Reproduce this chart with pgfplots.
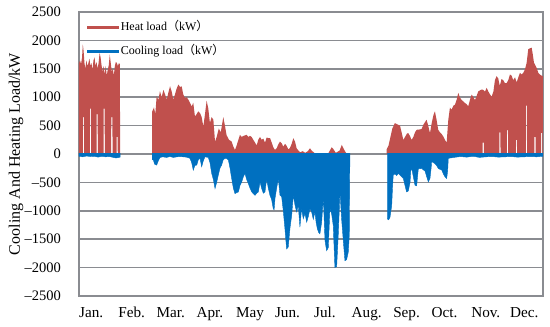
\documentclass[border=0pt]{standalone}
\usepackage{pgfplots}
\pgfplotsset{compat=1.18}
\usepackage{fontspec}
\setmainfont{Liberation Serif}
\newfontfamily\cjk{Noto Sans CJK SC}
\definecolor{heatred}{HTML}{C0504D}
\definecolor{coolblue}{HTML}{0070C0}
\definecolor{gridgray}{HTML}{8A8C91}
\begin{document}
\begin{tikzpicture}
\path (0,0) rectangle (550pt,327pt);
\begin{axis}[
  at={(79pt,31pt)}, anchor=south west,
  scale only axis, width=464pt, height=284pt,
  xmin=0, xmax=365, ymin=-2500, ymax=2500,
  xtick={9.6,41.4,72.2,103.0,134.5,164.0,193.5,226.3,257.7,287.5,320.0,350.2},
  xticklabels={Jan.,Feb.,Mar.,Apr.,May,Jun.,Jul.,Aug.,Sep.,Oct.,Nov.,Dec.},
  ytick={-2500,-2000,-1500,-1000,-500,0,500,1000,1500,2000,2500},
  yticklabels={\textendash2500,\textendash2000,\textendash1500,\textendash1000,\textendash500,0,500,1000,1500,2000,2500},
  major tick length=0pt,
  ymajorgrids=true,
  major grid style={color=gridgray, line width=1.5pt},
  axis line style={color=gridgray, line width=1.5pt},
  xticklabel style={font=\fontsize{15.2}{16}\selectfont, anchor=base, inner sep=0pt, yshift=-22pt},
  yticklabel style={font=\fontsize{14.5}{16}\selectfont, anchor=east, inner sep=0pt, xshift=-18pt},
  ylabel={Cooling And Heating Load/kW},
  ylabel style={at={(axis description cs:-0.1358,0.5)}, anchor=center, font=\fontsize{16}{18}\selectfont},
  legend cell align=left,
  legend image code/.code={\draw[#1] (0pt,0pt) -- (32pt,0pt);},
  legend style={at={(0.012,0.985)}, anchor=north west, draw=none, fill=none,
    font=\fontsize{12}{14}\selectfont, row sep=4pt, inner sep=1pt,
    nodes={inner xsep=0pt, inner ysep=4pt, text height=9pt, text depth=3pt}},
]
% ---------------- Heat load ----------------
\addplot[forget plot, fill=heatred, draw=none] coordinates {
(0,0)(0,1600)(0.8,1650)(1.6,1580)(2.4,1700)(3.0,1930)(3.6,1820)(4.3,1600)(5,1500)(5.8,1650)(6.6,1550)(7.4,1600)(8.2,1680)(9,1550)(9.8,1600)(10.6,1480)(11.4,1650)(12.2,1700)(13,1550)(13.8,1620)(14.6,1500)(15.4,1600)(16.2,1780)(17,1700)(17.8,1550)(18.6,1450)(19.4,1550)(20.2,1400)(21,1550)(21.8,1380)(22.6,1480)(23.4,1560)(24.2,1750)(25,1600)(25.8,1450)(26.6,1500)(27.4,1380)(28.2,1550)(29,1620)(29.8,1600)(30.6,1550)(31.4,1600)(32.2,1580)(32.3,0)
(30.5,0)(30.4,300)(29.6,300)(29.5,0)
(26.4,0)(26.3,650)(25.4,650)(25.3,0)
(20.3,0)(20.2,800)(19.4,800)(19.3,0)
(14.8,0)(14.7,700)(13.9,700)(13.8,0)
(9.5,0)(9.4,800)(8.6,800)(8.5,0)
(4.0,0)(3.9,650)(3.1,650)(3.0,0)
(0,0)
};
\addplot[forget plot, fill=heatred, draw=none] coordinates {
(57.6,0)(57.6,750)(59,820)(60,700)(61.1,1016)(62.4,950)(63.7,1105)(65,1000)(66.4,1130)(67.7,1050)(69.0,957)(70.3,1080)(71.6,1193)(72.9,1100)(74.2,957)(75.5,1050)(76.8,1150)(78.2,1223)(79.5,1180)(80.8,1190)(82,1050)(83.4,988)(84.7,1000)(86.0,957)(87.3,900)(88.6,839)(89.9,900)(91.2,661)(92.5,700)(93.8,750)(95.2,721)(96.5,650)(97.8,484)(99.1,700)(100.4,940)(101.7,800)(103.0,544)(104.3,650)(105.7,603)(107.0,218)(108.3,300)(110,450)(111.5,380)(113.5,650)(114.8,500)(116.1,330)(118,250)(120.1,218)(121.4,130)(122.7,71)(124,150)(126.6,337)(128,300)(129.5,320)(131.9,337)(133.2,300)(134.5,320)(135.8,300)(137.1,250)(138.5,200)(139.8,150)(141,250)(142.4,300)(143.7,250)(145,270)(146.3,200)(147.6,290)(149,280)(150.3,280)(151.6,200)(152.8,120)(154.2,71)(155.5,100)(156.8,170)(158.1,218)(159.4,190)(160.7,130)(162.1,180)(163.4,140)(164.7,80)(166,110)(167.3,180)(168.6,278)(169.9,220)(171.2,100)(172.6,60)(174,30)(176,50)(178,20)(180,50)(181.7,101)(183,60)(185.7,10)(188,5)(192,5)(196,8)(198.8,119)(200,90)(202,20)(205,60)(206.7,160)(208,100)(210,20)(212.5,0)
(57.6,0)
};
\addplot[forget plot, fill=heatred, draw=none] coordinates {
(242,0)(242,80)(243.5,150)(245,300)(246.5,450)(248.5,544)(250.5,520)(252.5,500)(253.8,380)(255.1,248)(256.5,300)(258,360)(259,367)(260.3,320)(261.6,248)(263,300)(264.3,380)(265.6,426)(267.5,430)(269.5,440)(271,520)(273.4,603)(274.7,500)(276.1,367)(277.5,550)(279,700)(280,750)(281.3,600)(282.6,426)(284,380)(285.3,350)(286.6,307)(287.9,250)(289.2,195)(290.5,600)(291.8,816)(293,780)(294.5,850)(295.8,869)(297,950)(298.4,1076)(299.5,1000)(301,950)(302.3,927)(303.5,900)(304.8,880)(306.2,840)(307.5,950)(308.9,1046)(310.2,1000)(311.5,950)(312.8,1020)(314,1100)(315.4,1120)(316.7,1135)(318,1130)(319.4,1100)(320.7,1165)(322,1100)(323.3,1050)(324.6,1010)(326,1100)(327.2,1300)(328.5,1371)(329.8,1330)(331,1200)(332.4,1320)(333.7,1300)(335,1250)(336.4,1250)(337.7,1300)(339.0,1400)(340.3,1380)(341.6,1300)(343.0,1350)(344.3,1260)(345.6,1350)(346.9,1430)(348.2,1400)(349.5,1430)(350.8,1489)(352.1,1600)(353.4,1844)(354.7,1860)(356.1,1873)(357.0,1750)(357.9,1608)(359.2,1550)(360.3,1500)(361.3,1430)(362.5,1400)(363.8,1380)(365,1371)(365,0)
(364.6,0)(364.5,370)(363.6,370)(363.5,0)
(359.2,0)(359.1,300)(358.3,300)(358.2,0)
(352.6,0)(352.5,850)(351.7,850)(351.6,0)
(344.6,0)(344.5,250)(343.7,250)(343.6,0)
(337.6,0)(337.5,420)(336.7,420)(336.6,0)
(331.6,0)(331.5,380)(330.7,380)(330.6,0)
(318.5,0)(318.4,200)(317.6,200)(317.5,0)
(242,0)
};
% ---------------- Cooling load ----------------
\addplot[forget plot, fill=coolblue, draw=coolblue, line width=0.4pt] coordinates {
(0,15)(0,-40)(3,-50)(6,-35)(9,-45)(12,-40)(15,-55)(18,-40)(21,-50)(24,-45)(27,-60)(29,-70)(30.5,-65)(32.3,-55)(32.3,15)
};
\addplot[forget plot, fill=coolblue, draw=coolblue, line width=0.4pt] coordinates {
(57.6,15)(57.6,-100)(58.5,-106)(59.5,-180)(61.1,-195)(62.4,-120)(63.7,-60)(66,-50)(68.9,-60)(71.5,-45)(74.2,-60)(77,-50)(79.4,-45)(82,-50)(84.5,-55)(87.3,-76)(88.6,-150)(89.9,-284)(91.2,-200)(92.6,-195)(93.9,-100)(95.2,-76)(96.5,-225)(97.8,-120)(99.1,-50)(101.7,-60)(103,-150)(104.4,-343)(105.7,-450)(107,-609)(108.3,-500)(109.6,-370)(110.9,-250)(112.2,-195)(113.5,-100)(114.9,-76)(116.2,-80)(117.5,-106)(118.8,-250)(120.1,-432)(121.4,-600)(122.7,-698)(124,-680)(125.4,-668)(126.7,-550)(128,-491)(129.3,-400)(130.6,-343)(131.9,-450)(133.2,-520)(134.5,-600)(135.9,-668)(137.2,-700)(138.5,-727)(139.8,-690)(141.1,-668)(142.4,-491)(143.7,-609)(145,-690)(146.3,-668)(147.6,-440)(148.9,-600)(150.2,-727)(151.5,-800)(152.8,-963)(153.5,-980)(154.2,-780)(155.5,-600)(156.8,-432)(158.1,-727)(159.4,-750)(160.7,-1000)(162.0,-1317)(163.3,-1672)(164.6,-1640)(166,-1300)(167.3,-1082)(168.6,-727)(169.9,-900)(171.2,-1020)(172.5,-910)(173.8,-1289)(175.1,-960)(176.4,-1140)(177.8,-1050)(179.1,-1200)(180.4,-1100)(181.7,-960)(183.0,-1020)(184.3,-1150)(185.6,-1020)(186.5,-1200)(187.5,-1317)(188.5,-1380)(189.5,-1406)(190.9,-1200)(192.2,-760)(193.5,-1525)(194.8,-1702)(196.1,-1650)(197.4,-963)(198.7,-1050)(200.0,-1260)(201.3,-1998)(202.7,-1980)(204.0,-1400)(205.3,-668)(206.6,-1150)(207.9,-1530)(209.2,-1879)(210.5,-1860)(211.8,-1732)(212.6,-1450)(213.1,0)(213.1,15)
};
\addplot[forget plot, fill=coolblue, draw=coolblue, line width=0.4pt] coordinates {
(242.5,15)(242.5,-1141)(243.5,-1160)(244.6,-1120)(246,-904)(246.6,-600)(247.2,-372)(248.5,-350)(249.9,-380)(251.2,-340)(252.5,-372)(253.8,-400)(255.1,-432)(256.4,-550)(257.7,-668)(259.1,-650)(260.4,-500)(261,-300)(261.7,-250)(263,-400)(264.3,-550)(265.6,-560)(266.3,-400)(267,-250)(268.3,-260)(269.6,-250)(270.9,-280)(272.2,-300)(273.5,-400)(274.8,-491)(276.1,-432)(277,-250)(277.4,-136)(278.7,-150)(280,-170)(281.3,-200)(282.6,-254)(284,-270)(285.3,-280)(286.6,-350)(287.9,-402)(289.2,-432)(290,-300)(290.5,-76)(295,-60)(300,-45)(305,-55)(310,-40)(315,-60)(320,-50)(325,-45)(330,-55)(335,-50)(340,-45)(345,-55)(350,-50)(355,-45)(360,-50)(365,-40)(365,15)
};
\addlegendimage{heatred, line width=3pt}
\addlegendentry{Heat load{\cjk （}kW{\cjk ）}}
\addlegendimage{coolblue, line width=3pt}
\addlegendentry{Cooling load{\cjk （}kW{\cjk ）}}
\end{axis}
\end{tikzpicture}
\end{document}
